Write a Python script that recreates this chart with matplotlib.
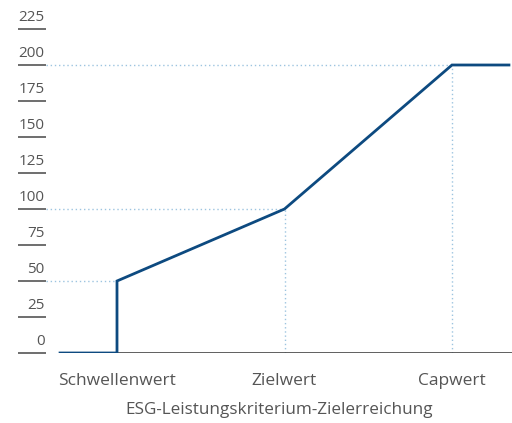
import matplotlib
matplotlib.use('Agg')
import matplotlib.pyplot as plt

plt.rcParams['font.family'] = ['Open Sans', 'DejaVu Sans']

# payout curve
curve_x = [0.66, 1, 1, 2, 3, 3.34]
curve_y = [0, 0, 50, 100, 200, 200]

# anchor points (x position, level) for the dotted guides
anchor_x = [1, 2, 3]
anchor_y = [50, 100, 200]
anchor_labels = ['Schwellenwert', 'Zielwert', 'Capwert']

y_ticks = [0, 25, 50, 75, 100, 125, 150, 175, 200, 225]

line_color = '#0d4a80'
guide_color = '#9dc4e0'
text_color = '#555555'

fig = plt.figure(figsize=(5.12, 4.23), dpi=100)
ax = fig.add_axes([46 / 512, 70 / 423, 466 / 512, 324 / 423])

px = 167.5  # pixels per category step
x_left = 1 - (117 - 46) / px
x_right = 1 + (512 - 117) / px
ax.set_xlim(x_left, x_right)
ax.set_ylim(0, 225)

# dotted guides
for xa, ya in zip(anchor_x, anchor_y):
    ax.plot([x_left, xa], [ya, ya], color=guide_color, lw=1, ls=(0, (1, 2)), zorder=1)
    if xa != 1:
        ax.plot([xa, xa], [0, ya], color=guide_color, lw=1, ls=(0, (1, 2)), zorder=1)

# baseline
ax.plot([curve_x[0], x_right], [0, 0], color='#444444', lw=1.2, zorder=2)

ax.plot(curve_x, curve_y, color=line_color, lw=2, zorder=3, solid_joinstyle='miter')

for s in ax.spines.values():
    s.set_visible(False)

ax.set_yticks(y_ticks)
ax.set_yticklabels([])
ax.tick_params(axis='y', length=20, width=1.2, color='#555555', direction='out', pad=0)
for t in y_ticks:
    ax.annotate(str(t), xy=(0, t), xycoords=('axes fraction', 'data'),
                xytext=(-1, 3), textcoords='offset points',
                ha='right', va='bottom', fontsize=11, color=text_color)

ax.set_xticks(anchor_x)
ax.set_xticklabels(anchor_labels, fontsize=12.5, color=text_color)
ax.tick_params(axis='x', length=0, pad=14.5)
ax.set_xlabel('ESG-Leistungskriterium-Zielerreichung', fontsize=12.3, color=text_color, labelpad=9)

fig.savefig('out.png', dpi=100)
